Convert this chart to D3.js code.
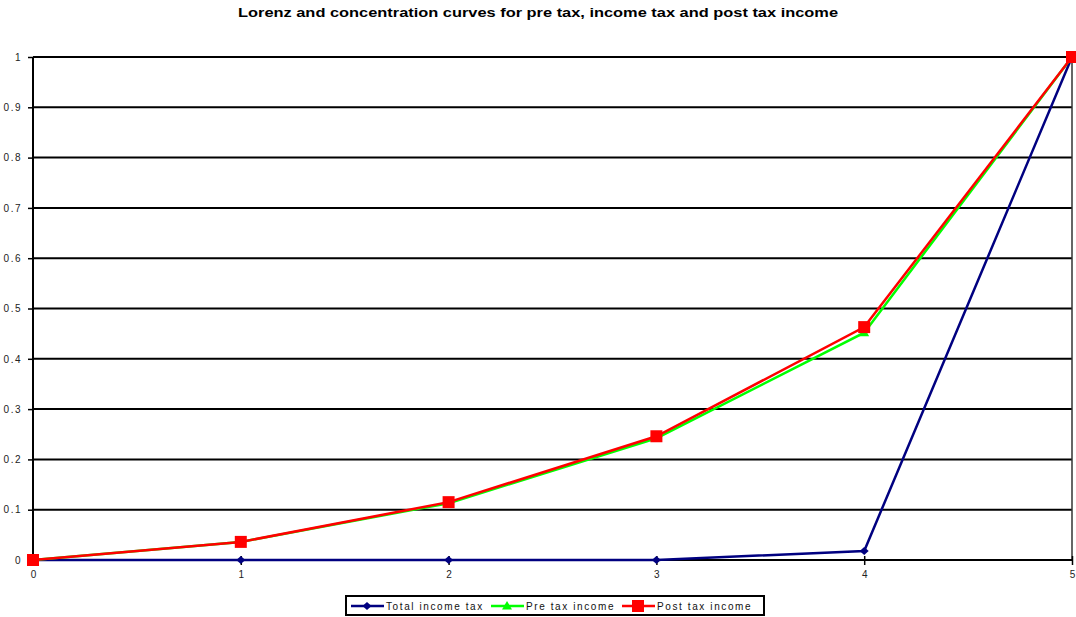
<!DOCTYPE html>
<html>
<head>
<meta charset="utf-8">
<script src="https://cdn.jsdelivr.net/npm/d3@7"></script>
<style>
  body { margin: 0; background: #fff; }
  svg { display: block; font-family: "Liberation Sans", Arial, sans-serif; }
</style>
</head>
<body>
<svg id="chart" width="1076" height="617"></svg>
<script>
// Cumulative shares by quintile group
const groups = [0, 1, 2, 3, 4, 5];
const totalIncomeTax = [0, 0, 0, 0, 0.018, 1];
const preTaxIncome = [0, 0.036, 0.113, 0.242, 0.452, 1];
const postTaxIncome = [0, 0.036, 0.115, 0.246, 0.463, 1];
const yTicks = [0, 0.1, 0.2, 0.3, 0.4, 0.5, 0.6, 0.7, 0.8, 0.9, 1];
const seriesNames = ["Total income tax", "Pre tax income", "Post tax income"];

const svg = d3.select("#chart");
const x = d3.scaleLinear().domain([0, 5]).range([33, 1072]);
const y = d3.scaleLinear().domain([0, 1]).range([560, 57]);

svg.append("text")
  .attr("x", 538).attr("y", 17)
  .attr("text-anchor", "middle")
  .attr("font-size", 13).attr("font-weight", "bold")
  .attr("textLength", 600).attr("lengthAdjust", "spacingAndGlyphs")
  .text("Lorenz and concentration curves for pre tax, income tax and post tax income");

// Horizontal gridlines
svg.append("g").selectAll("line").data(yTicks).join("line")
  .attr("x1", x(0)).attr("x2", x(5))
  .attr("y1", d => y(d)).attr("y2", d => y(d))
  .attr("stroke", "#000").attr("stroke-width", 2);

// Right border of plot area
svg.append("line")
  .attr("x1", x(5)).attr("x2", x(5)).attr("y1", y(1)).attr("y2", y(0))
  .attr("stroke", "#333").attr("stroke-width", 1.5);

// Y axis
const yAxis = svg.append("g").attr("transform", `translate(${x(0)},0)`)
  .call(d3.axisLeft(y).tickValues(yTicks).tickSize(5).tickPadding(6)
    .tickFormat(d => String(+d.toFixed(1))));
yAxis.select(".domain").attr("stroke-width", 2).attr("d", `M0,${y(0)}V${y(1)}`);
yAxis.selectAll(".tick line").attr("stroke-width", 1.5);
yAxis.selectAll("text").attr("font-size", 10).attr("fill", "#222")
  .style("letter-spacing", "1.5px").attr("font-family", "Liberation Sans, Arial, sans-serif");

// X axis
const xAxis = svg.append("g").attr("transform", `translate(0,${y(0)})`)
  .call(d3.axisBottom(x).tickValues(groups).tickSize(5).tickPadding(6).tickFormat(d3.format("d")));
xAxis.select(".domain").attr("stroke-width", 2).attr("d", `M${x(0)},0H${x(5)}`);
xAxis.selectAll(".tick line").attr("y1", -4).attr("y2", 5).attr("stroke-width", 1.5);
xAxis.selectAll("text").attr("font-size", 10).attr("fill", "#222")
  .attr("font-family", "Liberation Sans, Arial, sans-serif");

const line = d3.line().x((d, i) => x(groups[i])).y(d => y(d));

const series = [
  { values: totalIncomeTax, color: "#000080", marker: "diamond" },
  { values: preTaxIncome, color: "#00FF00", marker: "triangle" },
  { values: postTaxIncome, color: "#FF0000", marker: "square" }
];

function markerPath(type) {
  if (type === "diamond") return "M0,-4L4.5,0L0,4L-4.5,0Z";
  if (type === "triangle") return "M0,-5L5,3.5L-5,3.5Z";
  return "M-6,-6H6V6H-6Z";
}

series.forEach(s => {
  svg.append("path").datum(s.values)
    .attr("d", line).attr("fill", "none")
    .attr("stroke", s.color).attr("stroke-width", 2.5);
  svg.append("g").selectAll("path").data(s.values).join("path")
    .attr("transform", (d, i) => `translate(${x(groups[i])},${y(d)})`)
    .attr("d", markerPath(s.marker))
    .attr("fill", s.color);
});

// Legend
const legend = svg.append("g");
legend.append("rect")
  .attr("x", 346).attr("y", 596).attr("width", 418).attr("height", 19)
  .attr("fill", "#fff").attr("stroke", "#000").attr("stroke-width", 2);
const legendX = [351, 491, 622];
series.forEach((s, i) => {
  const g = legend.append("g").attr("transform", `translate(${legendX[i]},606)`);
  g.append("line").attr("x1", 0).attr("x2", 33).attr("stroke", s.color).attr("stroke-width", 2.5);
  g.append("path").attr("transform", "translate(16,0)").attr("d", markerPath(s.marker)).attr("fill", s.color);
  g.append("text").attr("x", 35).attr("y", 4)
    .attr("font-size", 10).attr("fill", "#111")
    .style("letter-spacing", "1.6px")
    .text(seriesNames[i]);
});
</script>
</body>
</html>
